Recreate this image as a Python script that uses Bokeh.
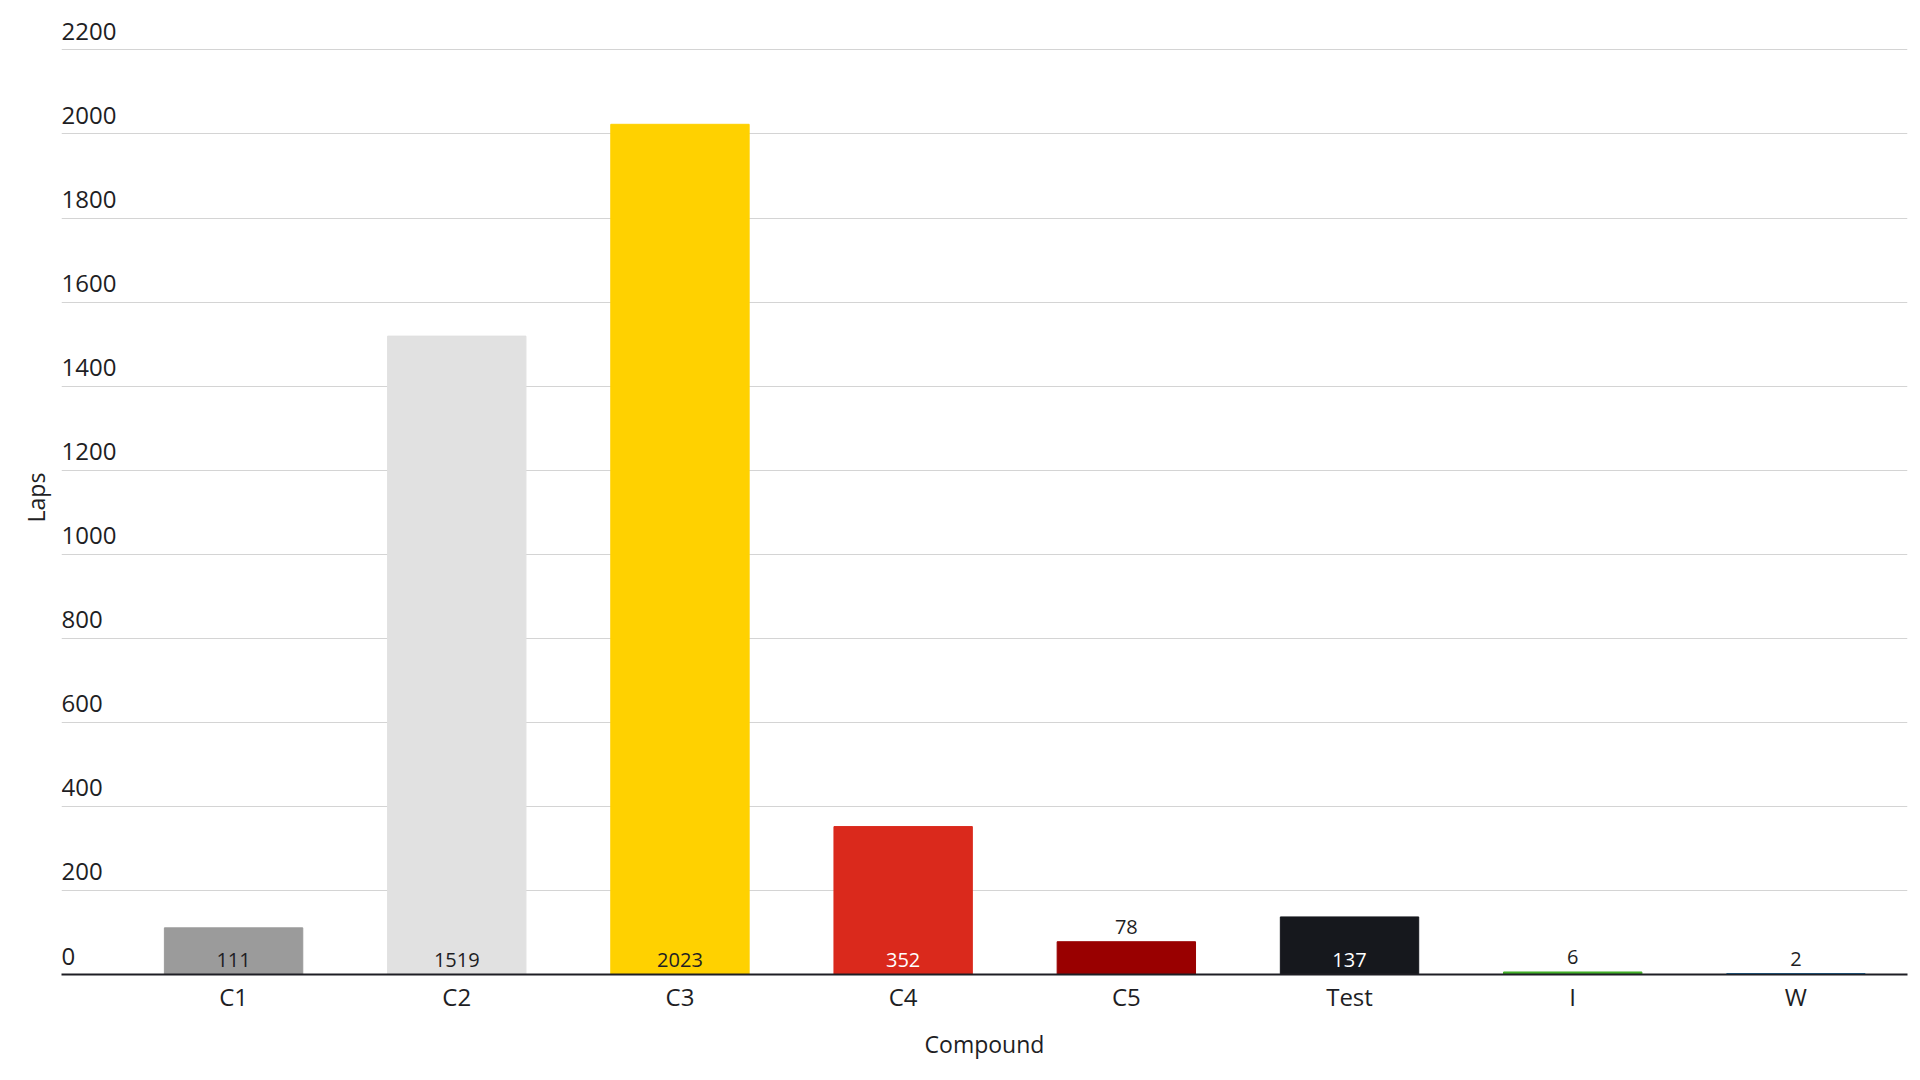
from bokeh.plotting import figure
from bokeh.models import ColumnDataSource, LabelSet, Range1d, FixedTicker
from bokeh.core.properties import value
from bokeh.embed import file_html
from bokeh.resources import INLINE

# ---- data ----
compounds = ["C1", "C2", "C3", "C4", "C5", "Test", "I", "W"]
laps = [111, 1519, 2023, 352, 78, 137, 6, 2]
bar_colors = ["#9b9b9b", "#e1e1e1", "#ffd100", "#da291c", "#990000", "#16181d", "#43b02a", "#0067ad"]
y_ticks = [0, 200, 400, 600, 800, 1000, 1200, 1400, 1600, 1800, 2000, 2200]

FONT = "Open Sans"
DARK = "#1e1e24"

def is_dark(hexcol):
    h = hexcol.lstrip("#")
    r, g, b = int(h[0:2], 16), int(h[2:4], 16), int(h[4:6], 16)
    return (0.299 * r + 0.587 * g + 0.114 * b) < 110

xs = list(range(len(compounds)))
fit_threshold = 90  # labels go inside the bar when the bar is tall enough
label_y = [0 if v >= fit_threshold else v for v in laps]
label_col = [("#ffffff" if (is_dark(c) and v >= fit_threshold) else DARK) for v, c in zip(laps, bar_colors)]

src = ColumnDataSource(dict(x=xs, laps=laps, color=bar_colors,
                            ly=label_y, lc=label_col, txt=[str(v) for v in laps]))

p = figure(width=1912, height=1064,
           x_range=Range1d(-0.771, 7.5), y_range=Range1d(0, 2270),
           output_backend="svg", toolbar_location=None,
           min_border_left=61, min_border_right=5, min_border_top=20, min_border_bottom=90)
p.outline_line_color = None
p.background_fill_color = "white"

p.vbar(x="x", top="laps", width=0.62, color="color", source=src)

# x axis
p.xaxis.ticker = FixedTicker(ticks=xs)
p.xaxis.major_label_overrides = {i: c for i, c in enumerate(compounds)}
p.xaxis.axis_label = "Compound"
p.xaxis.axis_line_color = DARK
p.xaxis.axis_line_width = 2
p.xaxis.major_tick_line_color = None
p.xaxis.major_tick_out = 0
p.xaxis.major_tick_in = 0
p.xaxis.minor_tick_line_color = None
p.xaxis.minor_tick_out = 0
p.xaxis.major_label_text_font = FONT
p.xaxis.major_label_text_font_size = "24px"
p.xaxis.major_label_text_color = DARK
p.xaxis.major_label_standoff = 5
p.xaxis.axis_label_text_font = FONT
p.xaxis.axis_label_text_font_size = "23px"
p.xaxis.axis_label_text_font_style = "normal"
p.xaxis.axis_label_text_color = DARK
p.xaxis.axis_label_standoff = 12
p.xgrid.visible = False

# y axis (tick labels drawn inside the plot, above the grid lines)
p.yaxis.ticker = FixedTicker(ticks=[])
p.yaxis.major_tick_out = 0
p.yaxis.major_tick_in = 0
p.yaxis.minor_tick_out = 0
p.yaxis.major_label_standoff = 0
p.yaxis.axis_line_color = None
p.yaxis.axis_label = "Laps"
p.yaxis.axis_label_text_font = FONT
p.yaxis.axis_label_text_font_size = "23px"
p.yaxis.axis_label_text_font_style = "normal"
p.yaxis.axis_label_text_color = DARK
p.yaxis.axis_label_standoff = 10
p.ygrid.ticker = FixedTicker(ticks=y_ticks)
p.ygrid.grid_line_color = "#d4d4d4"
p.ygrid.grid_line_width = 1

tick_src = ColumnDataSource(dict(y=y_ticks, t=[str(t) for t in y_ticks]))
p.add_layout(LabelSet(x=0, y="y", text="t", x_units="screen", source=tick_src,
                      text_align="left", text_baseline="alphabetic", y_offset=10,
                      text_font=value(FONT), text_font_size=value("24px"), text_color=DARK))

p.add_layout(LabelSet(x="x", y="ly", text="txt", source=src,
                      text_align="center", text_baseline="alphabetic", y_offset=8,
                      text_font=value(FONT), text_font_size=value("20px"), text_color="lc"))

open("out.html", "w").write(file_html(p, INLINE))
